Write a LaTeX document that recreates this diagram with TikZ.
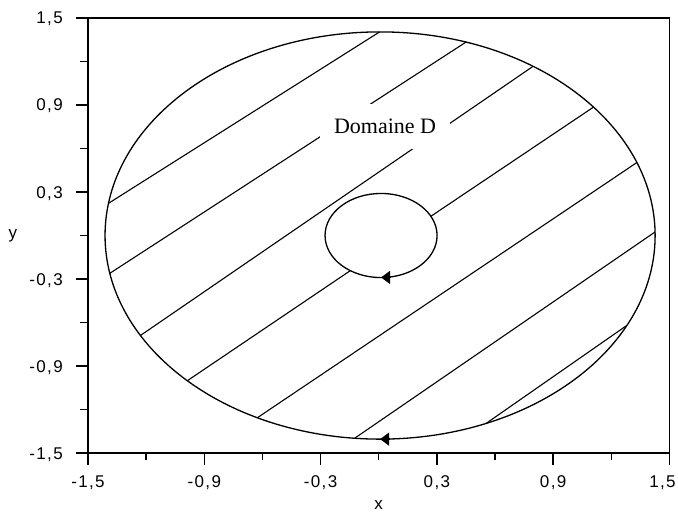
\documentclass[tikz,border=0pt]{standalone}
\usepackage{fontspec}
\setmainfont{Liberation Serif}
\newfontfamily\ticksf[LetterSpace=8]{Liberation Sans}
\usetikzlibrary{arrows.meta,calc}
\begin{document}
\begin{tikzpicture}[x=193.8pt,y=145pt,
  axis/.style={line width=1.4pt},
  curve/.style={line width=1.3pt},
  hatch/.style={line width=1.1pt},
  ticklab/.style={font=\ticksf\fontsize{17pt}{17pt}\selectfont, inner sep=0pt},
  tipstyle/.style={-{Triangle[length=9pt,width=13pt]}, line width=1.3pt}]
\useasboundingbox (-1.954,-1.976) rectangle (1.544,1.624);
\coordinate (O) at (0.007,0);
\coordinate (I) at (0.012,0);
% hatch lines
\foreach \a/\b in {170.9/90.1, 190.7/71.8, 209.4/56.2, 243.5/21.0, 264.7/1.0, 292.7/333.8}
  \draw[hatch] ($(O)+(\a:1.419 and 1.404)$) -- ($(O)+(\b:1.419 and 1.404)$);
\draw[hatch] ($(O)+(225.5:1.419 and 1.404)$) -- ($(I)+(236.7:0.289 and 0.29)$);
\draw[hatch] ($(I)+(27.2:0.289 and 0.29)$) -- ($(O)+(39.1:1.419 and 1.404)$);
% label covering hatch
\node[fill=white, minimum width=130pt, minimum height=45pt, inner sep=0pt,
      font=\fontsize{22pt}{22pt}\selectfont] (lab) at (0.0325,0.752) {Domaine D};
% circles
\draw[curve] (O) ellipse [x radius=1.419, y radius=1.404];
\draw[curve] (I) ellipse [x radius=0.289, y radius=0.29];
% arrows
\coordinate (ia0) at (0.06,-0.289);
\coordinate (ia1) at (0.012,-0.289);
\coordinate (oa0) at (0.06,-1.404);
\coordinate (oa1) at (0.007,-1.404);
\draw[tipstyle] (ia0) -- (ia1);
\draw[tipstyle] (oa0) -- (oa1);
% axes box
\draw[axis] (-1.5,-1.5) rectangle (1.5,1.5);
\foreach \v in {-1.5,-0.9,-0.3,0.3,0.9,1.5} {
  \draw[axis] (\v,-1.5) -- ++(0,-12pt);
  \draw[axis] (-1.5,\v) -- ++(-12pt,0);
}
\foreach \v in {-1.2,-0.6,0,0.6,1.2} {
  \draw[axis] (\v,-1.5) -- ++(0,-7pt);
  \draw[axis] (-1.5,\v) -- ++(-8pt,0);
}
\foreach \v/\t/\s [count=\i] in {-1.5/{-1,5}/0,-0.9/{-0,9}/0,-0.3/{-0,3}/0,0.3/{0,3}/0,0.9/{0,9}/0,1.5/{1,5}/-7} {
  \node[ticklab, anchor=base] (xl\i) at ([xshift=\s pt,yshift=-34pt]\v,-1.5) {\t};
  \node[ticklab, anchor=base east] (yl\i) at ([xshift=-25pt,yshift=-6pt]-1.5,\v) {\t};
}
\node[ticklab] (ytitle) at (-1.887,0) {y};
\node[ticklab] (xtitle) at (0,-1.859) {x};
\end{tikzpicture}
\end{document}
